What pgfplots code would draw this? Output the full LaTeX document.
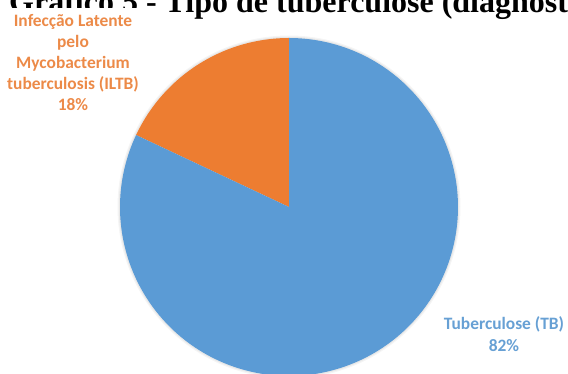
\documentclass[border=0pt]{standalone}
\usepackage{fontspec}
\setmainfont{Liberation Serif}
\newfontfamily\calibri{Carlito}
\usepackage{pgfplots}
\pgfplotsset{compat=1.18}
\definecolor{tbblue}{RGB}{91,155,213}
\definecolor{iltborange}{RGB}{237,125,49}
\definecolor{tbbluetxt}{RGB}{103,160,212}
\definecolor{iltbtxt}{RGB}{236,138,72}
% data (percent)
\def\vILTB{18}
\def\vTB{82}
\pgfmathsetmacro\aStart{90}
\pgfmathsetmacro\aMid{90+3.6*\vILTB}
\pgfmathsetmacro\aEnd{\aMid+3.6*\vTB}
\begin{document}
\begin{tikzpicture}
% title (cut at the top, as in the reference)
\node[anchor=base west, inner sep=0pt, font=\fontsize{32}{36}\selectfont\bfseries] at (9pt,361.5pt) {Gráfico 5 - Tipo de tuberculose (diagnost};
\fill[white] (0pt,366pt) rectangle (140pt,330pt);
\begin{axis}[
  at={(0,0)}, anchor=south west,
  scale only axis, width=568pt, height=374pt,
  xmin=0, xmax=568, ymin=0, ymax=374,
  hide axis, clip=false,
]
% soft shadow round the pie
\addplot[draw=black!4, line width=5pt, domain=0:360, samples=200, variable=\t]
  ({289+169*cos(\t)}, {167+169*sin(\t)});
\addplot[draw=black!9, line width=2.5pt, domain=0:360, samples=200, variable=\t]
  ({289+169*cos(\t)}, {167+169*sin(\t)});
% slices
\addplot[fill=iltborange, draw=none, domain=\aStart:\aMid, samples=80, variable=\t]
  ({289+169*cos(\t)}, {167+169*sin(\t)}) -- (axis cs:289,167) -- cycle;
\addplot[fill=tbblue, draw=none, domain=\aMid:\aEnd, samples=200, variable=\t]
  ({289+169*cos(\t)}, {167+169*sin(\t)}) -- (axis cs:289,167) -- cycle;
% labels
\node[align=center, text=iltbtxt, inner sep=0pt, font=\calibri\bfseries\fontsize{17.4}{21}\selectfont] at (axis cs:73,311)
  {Infecção Latente\\pelo\\Mycobacterium\\tuberculosis (ILTB)\\\vILTB\%};
\node[align=center, text=tbbluetxt, inner sep=0pt, font=\calibri\bfseries\fontsize{17.4}{22}\selectfont] at (axis cs:504,40)
  {Tuberculose (TB)\\\vTB\%};
\end{axis}
\pgfresetboundingbox
\useasboundingbox (0,0) rectangle (568pt,374pt);
\end{tikzpicture}
\end{document}
